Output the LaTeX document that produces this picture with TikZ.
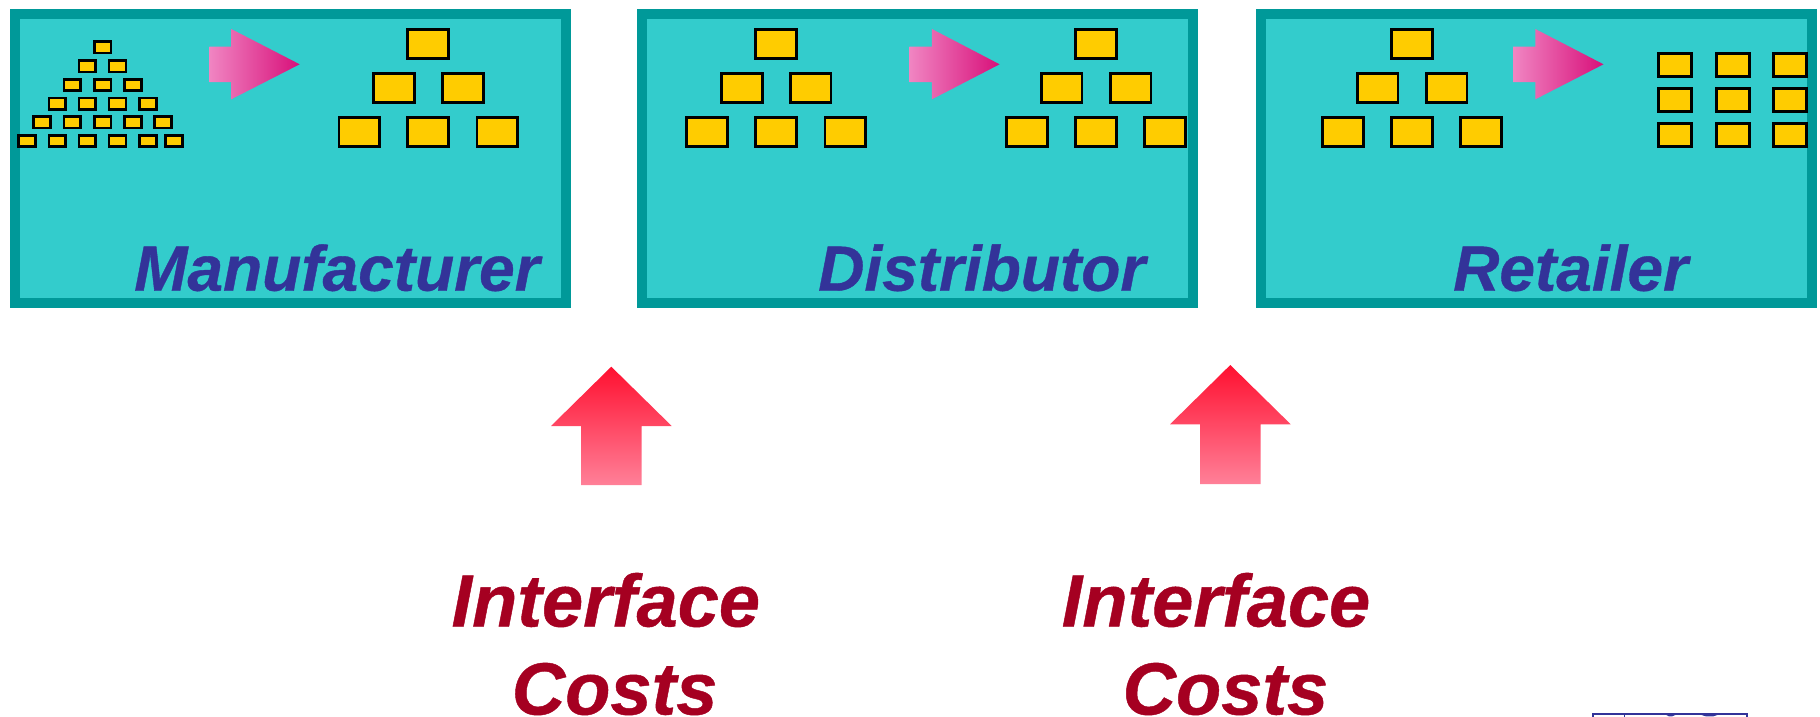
\documentclass[tikz,border=0pt]{standalone}
\usepackage{fontspec}
\setmainfont{Liberation Sans}[BoldItalicFeatures={FakeBold=0.6}]
\definecolor{tealfill}{HTML}{33CCCC}
\definecolor{tealline}{HTML}{009999}
\definecolor{gold}{HTML}{FFCC00}
\definecolor{labelblue}{HTML}{333399}
\definecolor{costred}{HTML}{A50021}
\definecolor{logoblue}{HTML}{333399}
\definecolor{pinkA}{HTML}{F085C2}
\definecolor{pinkB}{HTML}{E96CB0}
\definecolor{pinkC}{HTML}{D8107A}
\definecolor{redA}{HTML}{FF1030}
\definecolor{redB}{HTML}{FF8098}
\tikzset{
  panel/.style={draw=tealline,fill=tealfill,line width=10pt,rectangle,inner sep=0pt,minimum width=551.3pt,minimum height=289.2pt},
  brickS/.style={draw=black,fill=gold,line width=2.7pt,rectangle,inner sep=0pt,minimum width=16.8pt,minimum height=11.3pt},
  brickM/.style={draw=black,fill=gold,line width=2.8pt,rectangle,inner sep=0pt,minimum width=40.8pt,minimum height=29.2pt},
  brickG/.style={draw=black,fill=gold,line width=2.9pt,rectangle,inner sep=0pt,minimum width=33.1pt,minimum height=23.1pt},
  flowarrow/.style={left color=pinkA,middle color=pinkB,right color=pinkC,draw=none},
  costarrow/.style={top color=redA,bottom color=redB,draw=none},
  roleLabel/.style={anchor=base west,inner sep=0pt,text=labelblue,font=\fontsize{64}{64}\selectfont\bfseries\itshape},
  costLabel/.style={anchor=base,inner sep=0pt,text=costred,font=\fontsize{74}{74}\selectfont\bfseries\itshape},
  logoline/.style={fill=logoblue,draw=none},
}
\begin{document}
\begin{tikzpicture}[x=1pt,y=-1pt]
\useasboundingbox (0,0) rectangle (1820,717);
% panels
\node[panel] (p1) at (290.75,158.4) {};
\node[panel] (p2) at (917.65,158.4) {};
\node[panel] (p3) at (1536.7,158.4) {};
% flow arrows
\foreach \ax/\bx/\cx in {209.3/231.2/299.7, 909.3/931.9/999.6, 1513.2/1535.3/1603.5}
  \path[flowarrow] (\ax,46.7) -- (\bx,46.7) -- (\bx,29) -- (\cx,64.3) -- (\bx,99.3) -- (\bx,82) -- (\ax,82) -- cycle;
% small pyramid
\foreach \x/\y [count=\i] in {
  102.6/47.3,
  87.3/66.3, 117.5/66.3,
  72.3/85, 102.6/85, 132.8/85,
  57.4/103.7, 87.3/103.7, 117.5/103.7, 148.1/103.7,
  42.1/122.3, 72.3/122.3, 102.6/122.3, 132.8/122.3, 163/122.3,
  26.8/141, 57.4/141, 87.3/141, 117.5/141, 148.1/141, 174.1/141}
  \node[brickS] (s\i) at (\x,\y) {};
% medium pyramids
\foreach \o [count=\k] in {428.2, 776.1, 1096, 1412}{
  \foreach \dx/\y [count=\i] in {0/44.3, -34.4/88, 34.5/88, -68.9/132, 0/132, 69.2/132}
    \node[brickM] (m\k-\i) at ({\o+\dx},\y) {};
}
% grid
\foreach \x [count=\c] in {1675,1732.7,1790.3}
  \foreach \y [count=\r] in {65,100,135}
    \node[brickG] (g\c-\r) at (\x,\y) {};
% labels
\node[roleLabel] (lm) at (134,290.7) {Manufacturer};
\node[roleLabel] (ld) at (818,290.7) {Distributor};
\node[roleLabel] (lr) at (1453,290.7) {Retailer};
% cost arrows
\path[costarrow] (611.3,366.7) -- (671.7,426) -- (641.7,426) -- (641.7,485) -- (581,485) -- (581,426) -- (551,426) -- cycle;
\path[costarrow] (1230.3,365) -- (1290.7,424.3) -- (1260.7,424.3) -- (1260.7,484) -- (1200,484) -- (1200,424.3) -- (1170,424.3) -- cycle;
% cost labels
\node[costLabel] (c1a) at (605.8,626.5) {Interface};
\node[costLabel] (c1b) at (614.6,714.5) {Costs};
\node[costLabel] (c2a) at (1216,626.5) {Interface};
\node[costLabel] (c2b) at (1225.4,714.5) {Costs};
% logo fragment, cut by the lower edge
\fill[logoline] (1592,712.6) rectangle (1748,714.8);
\fill[logoline] (1592,714.8) rectangle (1594,717);
\fill[logoline] (1623.6,714.8) rectangle (1625.2,717);
\fill[logoline] (1746,714.8) rectangle (1748,717);
\fill[logoline] (1666,714.8) -- (1675.7,714.8) -- (1672,716.4) -- (1669,716.4) -- cycle;
\fill[logoline] (1701,714.8) -- (1718,714.8) -- (1713,716.4) -- (1706,716.4) -- cycle;
\end{tikzpicture}
\end{document}
